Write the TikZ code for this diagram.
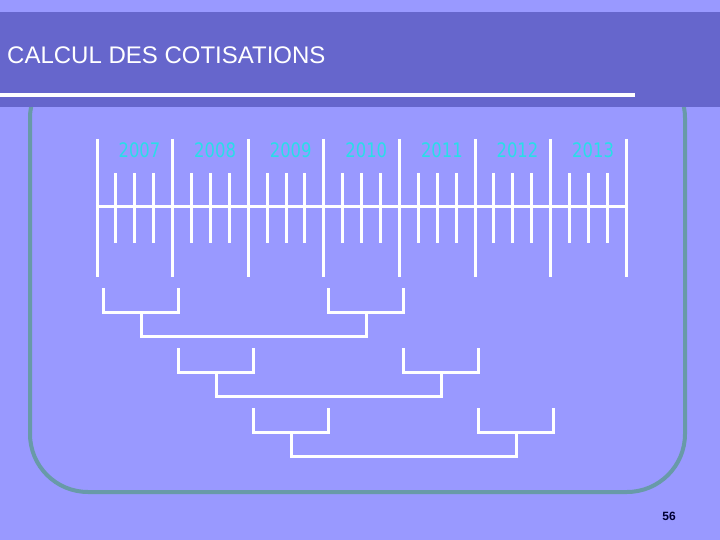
\documentclass[tikz,border=0pt]{standalone}
\usepackage{fontspec}
\setmainfont{Liberation Sans}
\newfontfamily\yearfont[FakeStretch=0.82]{DejaVu Sans}
\usetikzlibrary{positioning}
\definecolor{slidebg}{RGB}{153,153,255}
\definecolor{titleband}{RGB}{102,102,204}
\definecolor{framecol}{RGB}{104,154,168}
\definecolor{yearcol}{RGB}{40,222,232}
\definecolor{pagecol}{RGB}{0,0,51}

\begin{document}
\begin{tikzpicture}[x=1pt, y=-1pt, white line/.style={white, line width=3pt}, yearlab/.style={text=yearcol, font=\yearfont\fontsize{20}{24}\selectfont, inner sep=0pt}, pairbox/.style={white, line width=3pt}]
\fill[slidebg] (0,0) rectangle (720,540);
\useasboundingbox (0,0) rectangle (720,540);
% frame and title band
\draw[framecol, line width=4pt, rounded corners=58pt] (30,60) rectangle (685,492);
\fill[titleband] (0,12) rectangle (720,107);
\draw[white, line width=3.5pt] (0,95) -- (635,95);
\node[anchor=west, text=white, font=\fontsize{24}{28}\selectfont, inner sep=0pt] (title) at (7,55) {CALCUL DES COTISATIONS};
\node[text=pagecol, font=\bfseries\fontsize{12}{14}\selectfont, inner sep=0pt] (pagenum) at (669,516) {56};
% time axis
\draw[white line] (97,207) -- (626.2,207);
\foreach \yr [count=\i from 0] in {2007,...,2013}{
  \draw[white line] (97+75.6*\i,139) -- (97+75.6*\i,277);
  \foreach \q in {1,2,3}
    \draw[white line] (97+75.6*\i+18.9*\q,173) -- (97+75.6*\i+18.9*\q,243);
  \node[yearlab] (y\yr) at (139.5+75.6*\i,150) {\yr};
}
\draw[white line] (626.2,139) -- (626.2,277);
% brackets: year j paired with year j+3
\foreach \j in {0,1,2}{
  \pgfmathsetmacro{\top}{288+60*\j}
  \pgfmathsetmacro{\bot}{312+60*\j}
  \pgfmathsetmacro{\base}{336+60*\j}
  \pgfmathsetmacro{\la}{103+75*\j}
  \pgfmathsetmacro{\lb}{328+75*\j}
  \draw[pairbox] (\la,\top) -- (\la,\bot) -- (\la+75,\bot) -- (\la+75,\top);
  \draw[pairbox] (\lb,\top) -- (\lb,\bot) -- (\lb+75,\bot) -- (\lb+75,\top);
  \draw[pairbox] (\la+38,\bot) -- (\la+38,\base) -- (\lb+38,\base) -- (\lb+38,\bot);
}
\end{tikzpicture}
\end{document}
